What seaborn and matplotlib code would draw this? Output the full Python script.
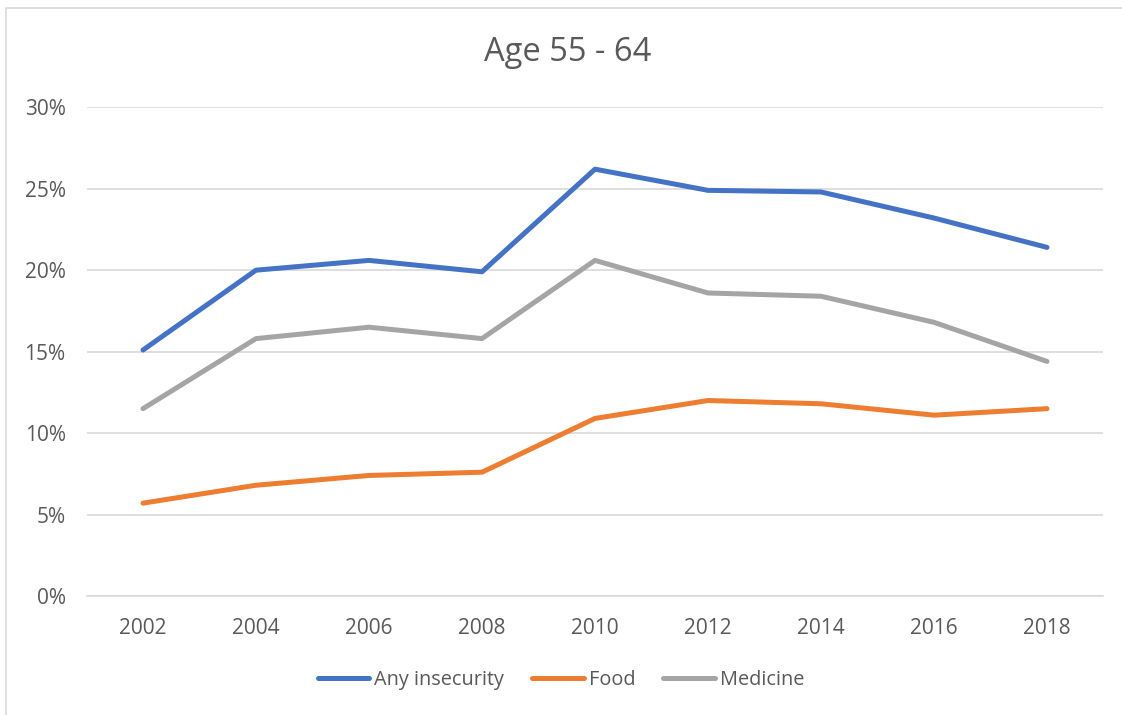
import matplotlib
matplotlib.use("Agg")
import matplotlib.pyplot as plt
import seaborn as sns
import pandas as pd
from matplotlib.patches import Rectangle
from matplotlib.ticker import FuncFormatter

years = ["2002", "2004", "2006", "2008", "2010", "2012", "2014", "2016", "2018"]
any_insecurity = [15.1, 20.0, 20.6, 19.9, 26.2, 24.9, 24.8, 23.2, 21.4]
food = [5.7, 6.8, 7.4, 7.6, 10.9, 12.0, 11.8, 11.1, 11.5]
medicine = [11.5, 15.8, 16.5, 15.8, 20.6, 18.6, 18.4, 16.8, 14.4]
series_names = ["Any insecurity", "Food", "Medicine"]
colors = ["#4472C4", "#ED7D31", "#A5A5A5"]
y_ticks = [0, 5, 10, 15, 20, 25, 30]

sns.set_theme(style="white")
plt.rcParams["font.family"] = ["Open Sans", "DejaVu Sans"]

text_color = "#595959"

df = pd.DataFrame({
    "year": years * 3,
    "pos": list(range(len(years))) * 3,
    "value": any_insecurity + food + medicine,
    "series": [s for s in series_names for _ in years],
})

fig = plt.figure(figsize=(11.22, 7.15), dpi=100)
ax = fig.add_axes([0.0771, 0.1664, 0.9064, 0.6836])

sns.lineplot(data=df, x="pos", y="value", hue="series", hue_order=series_names,
             palette=colors, linewidth=3.6, ax=ax, legend=False,
             solid_capstyle="round", solid_joinstyle="round")

ax.set_xlim(-0.5, len(years) - 0.5)
ax.set_ylim(0, 30)
ax.set_xticks(range(len(years)))
ax.set_xticklabels(years)
ax.set_yticks(y_ticks)
ax.yaxis.set_major_formatter(FuncFormatter(lambda v, _: f"{v:.0f}%"))
ax.tick_params(axis="both", length=0, labelsize=15, labelcolor=text_color)
ax.tick_params(axis="x", pad=16)
ax.tick_params(axis="y", pad=15)
ax.grid(axis="y", color="#D9D9D9", linewidth=1.2)
ax.set_axisbelow(True)
for side in ["top", "right", "left"]:
    ax.spines[side].set_visible(False)
ax.spines["bottom"].set_color("#D9D9D9")
ax.spines["bottom"].set_linewidth(1.2)
ax.set_xlabel("")
ax.set_ylabel("")

fig.text(0.506, 0.927, "Age 55 - 64", ha="center", va="center",
         fontsize=23.5, color=text_color)

handles = [plt.Line2D([0], [0], color=c, linewidth=3.6, solid_capstyle="round")
           for c in colors]
fig.legend(handles, series_names, loc="center", bbox_to_anchor=(0.5, 0.049),
           ncol=3, frameon=False, fontsize=14.3, labelcolor=text_color,
           handlelength=2.6, handletextpad=0.25, columnspacing=1.4)

# chart frame
fig.patches.append(Rectangle((6 / 1122, -0.05), 1.2, 1 - 8 / 715 + 0.05,
                             transform=fig.transFigure, fill=False,
                             edgecolor="#D9D9D9", linewidth=1.2))

fig.savefig("out.png", dpi=100, facecolor="white")
